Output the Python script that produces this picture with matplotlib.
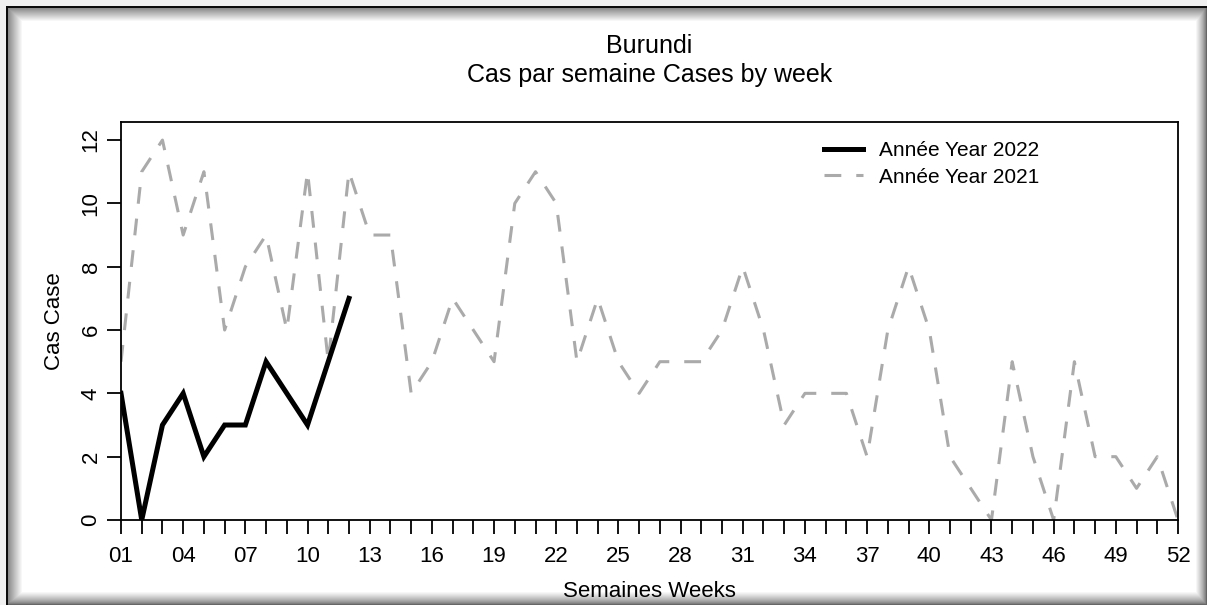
import matplotlib
matplotlib.use("Agg")
import matplotlib.pyplot as plt
import numpy as np

plt.rcParams['font.family'] = ['Liberation Sans', 'DejaVu Sans']

weeks_2022 = list(range(1, 13))
cases_2022 = [4, 0, 3, 4, 2, 3, 3, 5, 4, 3, 5, 7]

weeks_2021 = list(range(1, 53))
cases_2021 = [5, 11, 12, 9, 11, 6, 8, 9, 6, 11, 5, 11, 9, 9, 4, 5, 7, 6, 5, 10,
              11, 10, 5, 7, 5, 4, 5, 5, 5, 6, 8, 6, 3, 4, 4, 4, 2, 6, 8, 6,
              2, 1, 0, 5, 2, 0, 5, 2, 2, 1, 2, 0]

xtick_labels = [f"{w:02d}" if (w - 1) % 3 == 0 else "" for w in weeks_2021]
yticks = [0, 2, 4, 6, 8, 10, 12]

W, H = 1207, 605
fig = plt.figure(figsize=(W / 100, H / 100), dpi=100)

# window frame with shadow (screenshot look)
xx = np.arange(W)[None, :]
yy = np.arange(H)[:, None]
left_sh = np.clip((xx - 8) / 14.0, 0, 1) * 0.45 + 0.55
top_sh = np.clip((yy - 8) / 13.0, 0, 1) * 0.45 + 0.55
right_sh = np.clip((W - 1 - xx) / 11.0, 0, 1) ** 0.7 * 0.6 + 0.4
bot_sh = np.clip((H - 1 - yy) / 13.0, 0, 1) ** 0.7 * 0.6 + 0.4
img = np.minimum(np.minimum(left_sh, top_sh), np.minimum(right_sh, bot_sh)) * np.ones((H, W))
img[:, 6:8] = np.where(yy >= 6, 0.05, img[:, 6:8])
img[6:8, :] = np.where(xx >= 6, 0.05, img[6:8, :])
img[:, :6] = 0.94
img[:6, :] = 0.94
bg = fig.add_axes([0, 0, 1, 1], zorder=-1)
bg.imshow(img, cmap='gray', vmin=0, vmax=1, aspect='auto', interpolation='nearest')
bg.axis('off')

ax = fig.add_axes([121 / W, 1 - 520 / H, (1178 - 121) / W, (520 - 122) / H])
ax.set_facecolor('white')

ax.plot(weeks_2022, cases_2022, color='black', lw=3.6, label='Année Year 2022',
        solid_joinstyle='miter', zorder=3)
ax.plot(weeks_2021, cases_2021, color='#aaaaaa', lw=2.2, linestyle=(0, (5.5, 4.9)),
        label='Année Year 2021', zorder=2)

ax.set_xlim(1, 52)
ax.set_ylim(0, 12.57)
ax.set_xticks(weeks_2021)
ax.set_xticklabels(xtick_labels, fontsize=16)
ax.set_yticks(yticks)
ax.set_yticklabels([str(v) for v in yticks], fontsize=16, rotation=90, va='center')
ax.tick_params(axis='both', direction='out', length=10, width=1.3, color='black')
ax.tick_params(axis='x', pad=9)
ax.tick_params(axis='y', pad=4)

for s in ax.spines.values():
    s.set_linewidth(1.3)

ax.set_xlabel('Semaines Weeks', fontsize=16)
ax.xaxis.set_label_coords(0.5, -0.153)
ax.set_ylabel('Cas Case', fontsize=16)
ax.yaxis.set_label_coords(-0.053, 0.5)

ax.set_title('Burundi\nCas par semaine Cases by week', fontsize=18, linespacing=1.25, pad=29)

ax.legend(loc='upper left', bbox_to_anchor=(0.655, 0.978), frameon=False, fontsize=15,
          borderpad=0, handlelength=1.9, handletextpad=0.75, labelspacing=0.36)

fig.savefig('out.png', dpi=100)
